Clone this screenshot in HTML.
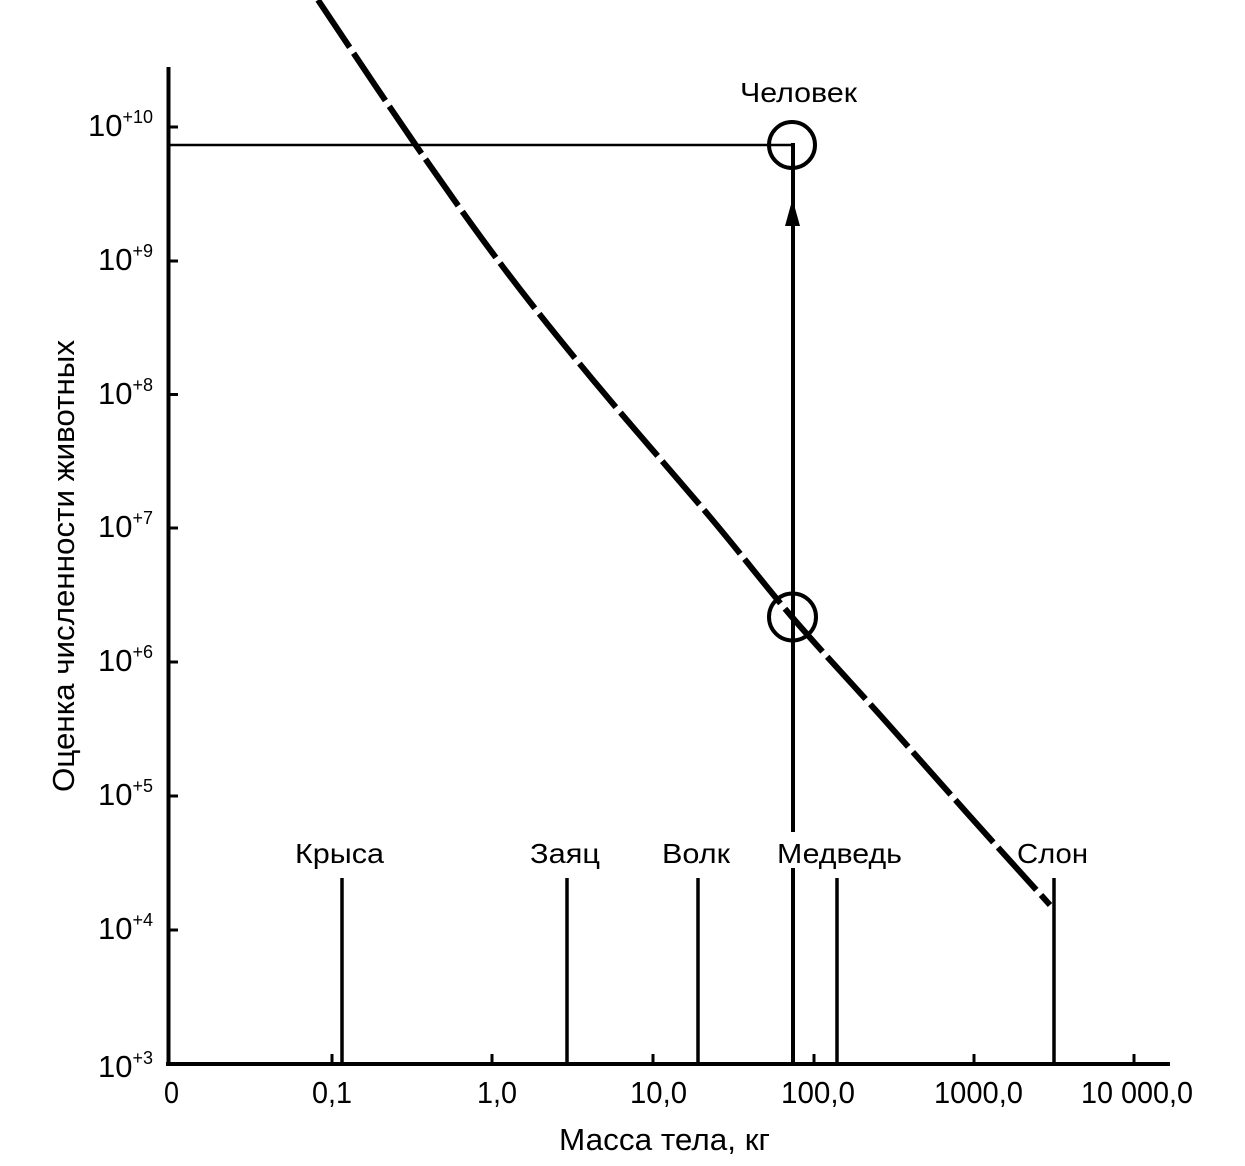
<!DOCTYPE html>
<html>
<head>
<meta charset="utf-8">
<style>
  html,body{margin:0;padding:0;background:#fff;}
  svg{display:block;}
  text{font-family:"Liberation Sans","DejaVu Sans",sans-serif;fill:#000;}
</style>
</head>
<body>
<svg width="1245" height="1166" viewBox="0 0 1245 1166" xmlns="http://www.w3.org/2000/svg">
  <rect x="0" y="0" width="1245" height="1166" fill="#fff"/>

  <!-- Y axis -->
  <line x1="168.5" y1="67" x2="168.5" y2="1066" stroke="#000" stroke-width="4"/>
  <!-- X axis -->
  <line x1="166" y1="1064" x2="1170" y2="1064" stroke="#000" stroke-width="4"/>

  <!-- Y ticks -->
  <g stroke="#000" stroke-width="3">
    <line x1="168" y1="127" x2="178" y2="127"/>
    <line x1="168" y1="261" x2="178" y2="261"/>
    <line x1="168" y1="394.5" x2="178" y2="394.5"/>
    <line x1="168" y1="528" x2="178" y2="528"/>
    <line x1="168" y1="662" x2="178" y2="662"/>
    <line x1="168" y1="796" x2="178" y2="796"/>
    <line x1="168" y1="930" x2="178" y2="930"/>
  </g>

  <!-- X ticks -->
  <g stroke="#000" stroke-width="3">
    <line x1="332" y1="1054" x2="332" y2="1064"/>
    <line x1="492" y1="1054" x2="492" y2="1064"/>
    <line x1="653" y1="1054" x2="653" y2="1064"/>
    <line x1="814" y1="1054" x2="814" y2="1064"/>
    <line x1="974" y1="1054" x2="974" y2="1064"/>
    <line x1="1134" y1="1054" x2="1134" y2="1064"/>
  </g>

  <!-- Y tick labels -->
  <g font-size="31" text-anchor="end">
    <text x="153" y="136">10<tspan font-size="18" dy="-13">+10</tspan></text>
    <text x="153" y="270">10<tspan font-size="18" dy="-13">+9</tspan></text>
    <text x="153" y="404">10<tspan font-size="18" dy="-13">+8</tspan></text>
    <text x="153" y="537">10<tspan font-size="18" dy="-13">+7</tspan></text>
    <text x="153" y="671">10<tspan font-size="18" dy="-13">+6</tspan></text>
    <text x="153" y="805">10<tspan font-size="18" dy="-13">+5</tspan></text>
    <text x="153" y="939">10<tspan font-size="18" dy="-13">+4</tspan></text>
    <text x="153" y="1077">10<tspan font-size="18" dy="-13">+3</tspan></text>
  </g>

  <!-- X tick labels -->
  <g font-size="31">
    <text x="164" y="1103" textLength="15" lengthAdjust="spacingAndGlyphs">0</text>
    <text x="312" y="1103" textLength="40" lengthAdjust="spacingAndGlyphs">0,1</text>
    <text x="477" y="1103" textLength="40" lengthAdjust="spacingAndGlyphs">1,0</text>
    <text x="630" y="1103" textLength="57" lengthAdjust="spacingAndGlyphs">10,0</text>
    <text x="781" y="1103" textLength="74" lengthAdjust="spacingAndGlyphs">100,0</text>
    <text x="934" y="1103" textLength="89" lengthAdjust="spacingAndGlyphs">1000,0</text>
    <text x="1081" y="1103" textLength="112" lengthAdjust="spacingAndGlyphs">10 000,0</text>
  </g>

  <!-- Axis titles -->
  <text x="559" y="1150" font-size="31" textLength="211" lengthAdjust="spacingAndGlyphs">Масса тела, кг</text>
  <text transform="translate(74,792) rotate(-90)" x="0" y="0" font-size="31" textLength="452" lengthAdjust="spacingAndGlyphs">Оценка численности животных</text>

  <!-- Horizontal line to y-axis -->
  <line x1="168" y1="145" x2="793" y2="145" stroke="#000" stroke-width="2.5"/>

  <!-- Human vertical line -->
  <line x1="793" y1="143" x2="793" y2="832" stroke="#000" stroke-width="4"/>
  <line x1="793" y1="868" x2="793" y2="1064" stroke="#000" stroke-width="4"/>
  <polygon points="792.5,199 785,226 800,226" fill="#000"/>

  <!-- Circles -->
  <circle cx="792" cy="145" r="23" fill="none" stroke="#000" stroke-width="4"/>
  <circle cx="792.5" cy="617" r="23.5" fill="none" stroke="#000" stroke-width="4"/>

  <!-- Animal lines -->
  <g stroke="#000" stroke-width="3.5">
    <line x1="342" y1="878" x2="342" y2="1064"/>
    <line x1="567" y1="878" x2="567" y2="1064"/>
    <line x1="698" y1="878" x2="698" y2="1064"/>
    <line x1="837" y1="878" x2="837" y2="1064"/>
    <line x1="1054" y1="878" x2="1054" y2="1064"/>
  </g>

  <!-- Animal labels -->
  <g font-size="28">
    <text x="295" y="863" textLength="89" lengthAdjust="spacingAndGlyphs">Крыса</text>
    <text x="530" y="863" textLength="70" lengthAdjust="spacingAndGlyphs">Заяц</text>
    <text x="662" y="863" textLength="68" lengthAdjust="spacingAndGlyphs">Волк</text>
    <text x="777" y="863" textLength="125" lengthAdjust="spacingAndGlyphs">Медведь</text>
    <text x="1017" y="863" textLength="71" lengthAdjust="spacingAndGlyphs">Слон</text>
    <text x="740" y="102" textLength="117" lengthAdjust="spacingAndGlyphs">Человек</text>
  </g>

  <!-- Dashed regression line (smooth) -->
  <path d="M318,0 C334.2,24 384.2,99.5 415,144
           C445.8,188.5 473.3,227.7 503,267
           C532.7,306.3 558.5,338.3 593,380
           C627.5,421.7 676.8,477.5 710,517
           C743.2,556.5 763.7,584 792,617
           C820.3,650 850.8,682.3 880,715
           C909.2,747.7 938.7,781.3 967,813
           C995.3,844.7 1036.2,889.7 1050,905"
        fill="none" stroke="#000" stroke-width="6" stroke-dasharray="57 7"/>
</svg>
</body>
</html>
